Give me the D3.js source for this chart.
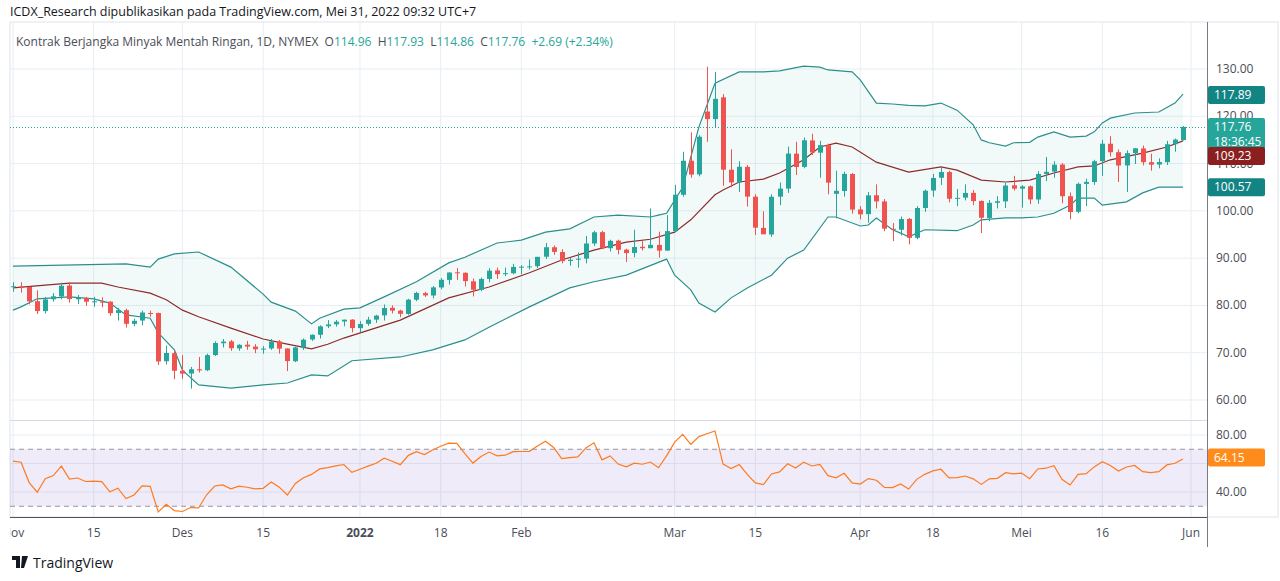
<!DOCTYPE html>
<html><head><meta charset="utf-8">
<script src="https://cdn.jsdelivr.net/npm/d3@7/dist/d3.min.js"></script>
<style>body{margin:0;background:#fff;font-family:"Open Sans","DejaVu Sans",sans-serif}</style>
</head><body><svg id="c" width="1280" height="581"></svg>
<script>
// ---- data ----
const priorCloses=[79.5,80.5,81,80.5,82,82.5,83.5,84,83,84.5,85.5,86,85,84.5,85,86,86.5,84,83.5,84];
const dates=["Nov 1","Nov 2","Nov 3","Nov 4","Nov 5","Nov 8","Nov 9","Nov 10","Nov 11","Nov 12","Nov 15","Nov 16","Nov 17","Nov 18","Nov 19","Nov 22","Nov 23","Nov 24","Nov 26","Nov 29","Nov 30",
"Dec 1","Dec 2","Dec 3","Dec 6","Dec 7","Dec 8","Dec 9","Dec 10","Dec 13","Dec 14","Dec 15","Dec 16","Dec 17","Dec 20","Dec 21","Dec 22","Dec 23","Dec 27","Dec 28","Dec 29","Dec 30","Dec 31",
"Jan 3","Jan 4","Jan 5","Jan 6","Jan 7","Jan 10","Jan 11","Jan 12","Jan 13","Jan 14","Jan 18","Jan 19","Jan 20","Jan 21","Jan 24","Jan 25","Jan 26","Jan 27","Jan 28","Jan 31",
"Feb 1","Feb 2","Feb 3","Feb 4","Feb 7","Feb 8","Feb 9","Feb 10","Feb 11","Feb 14","Feb 15","Feb 16","Feb 17","Feb 18","Feb 22","Feb 23","Feb 24","Feb 25","Feb 28",
"Mar 1","Mar 2","Mar 3","Mar 4","Mar 7","Mar 8","Mar 9","Mar 10","Mar 11","Mar 14","Mar 15","Mar 16","Mar 17","Mar 18","Mar 21","Mar 22","Mar 23","Mar 24","Mar 25","Mar 28","Mar 29","Mar 30","Mar 31",
"Apr 1","Apr 4","Apr 5","Apr 6","Apr 7","Apr 8","Apr 11","Apr 12","Apr 13","Apr 14","Apr 18","Apr 19","Apr 20","Apr 21","Apr 22","Apr 25","Apr 26","Apr 27","Apr 28","Apr 29",
"May 2","May 3","May 4","May 5","May 6","May 9","May 10","May 11","May 12","May 13","May 16","May 17","May 18","May 19","May 20","May 23","May 24","May 25","May 26","May 27","May 31"];
const opens=[83.9,84.0,83.9,80.9,78.8,81.3,81.9,84.2,81.3,81.6,80.8,80.8,80.8,78.4,79.0,76.1,76.8,78.4,78.4,68.2,69.9,
66.2,65.6,66.5,66.3,69.5,72.0,72.4,70.9,71.7,71.3,70.7,70.9,72.4,70.9,68.2,71.1,72.8,73.8,75.6,76.0,76.6,77.0,
75.2,76.1,77.0,77.9,79.5,78.9,78.2,81.2,82.6,82.1,83.8,85.4,87.0,86.9,85.1,83.3,85.6,87.4,86.6,86.8,
88.2,88.2,88.3,90.3,92.3,91.3,89.4,89.7,89.9,93.1,95.5,92.1,93.7,91.8,91.1,92.4,92.1,92.8,91.6,
95.7,103.4,110.6,107.7,121.0,119.4,124.0,108.7,106.0,109.3,103.0,96.4,95.0,103.0,104.7,112.1,109.3,114.9,112.3,113.9,103.6,104.2,107.8,
100.3,99.3,103.3,102.0,96.2,96.0,98.3,94.3,100.6,104.3,107.0,108.2,102.6,102.8,103.8,102.1,98.5,101.7,102.0,105.4,
104.7,105.2,102.4,107.8,108.3,109.8,103.1,99.8,105.7,106.1,110.5,114.2,112.4,109.6,112.2,113.2,110.3,109.8,110.3,114.1,114.96];
const highs=[84.9,84.9,84.0,83.2,81.8,82.6,84.8,84.9,82.2,81.8,81.8,81.7,80.9,79.5,79.3,77.2,78.9,78.9,78.5,71.5,70.5,
69.5,67.0,69.1,69.8,72.4,72.9,72.7,71.8,72.5,71.8,71.4,72.9,72.7,70.9,71.3,73.0,73.9,75.8,76.9,76.9,77.0,77.1,
76.7,77.6,78.0,80.2,80.0,79.1,81.4,82.9,82.9,84.1,85.8,87.0,87.9,87.0,85.7,85.9,87.9,88.0,88.0,88.8,
88.5,89.7,90.3,93.2,92.7,91.9,90.0,91.2,94.7,95.8,95.8,93.9,93.9,92.0,96.0,93.6,100.5,95.6,99.1,
105.5,112.5,116.6,116.0,130.5,129.4,124.7,113.0,110.5,109.7,103.5,99.9,103.5,106.0,113.6,114.6,115.5,116.3,114.8,114.2,108.5,108.3,108.0,
101.0,104.0,105.6,102.5,97.4,98.8,98.5,101.0,104.5,107.8,109.2,108.5,104.6,105.6,104.4,102.2,102.3,103.1,105.9,107.4,
105.4,105.4,108.4,111.4,110.5,110.1,103.9,106.0,106.8,110.8,115.0,115.8,113.0,112.8,113.3,113.8,112.1,111.1,114.8,115.3,117.93];
const lows=[82.9,82.7,80.2,78.2,78.3,80.8,81.3,80.6,80.3,79.9,79.7,79.6,77.8,76.8,75.3,75.6,75.8,77.6,67.4,67.5,64.4,
64.4,62.4,65.8,66.1,69.3,71.1,70.4,70.4,70.6,69.9,69.8,70.6,69.8,66.1,68.0,70.6,72.5,73.0,75.2,75.5,75.6,74.3,
74.3,75.7,76.3,76.8,78.3,77.5,78.0,80.9,81.8,81.5,83.4,84.4,85.4,84.0,81.9,83.0,84.9,85.6,86.2,86.6,
86.6,87.6,87.9,89.8,90.7,88.9,88.4,88.0,88.9,92.6,91.9,91.4,90.8,89.2,90.2,91.6,92.1,90.1,91.5,
95.5,103.0,107.0,107.3,114.6,117.6,105.3,105.0,104.0,100.9,94.9,95.2,94.5,101.2,103.8,107.6,109.0,111.8,107.0,103.5,98.4,103.0,99.4,
98.2,97.5,100.5,95.7,93.6,94.8,92.9,94.0,99.8,103.0,105.5,101.8,101.0,102.2,101.2,95.3,97.8,100.5,100.6,104.3,
100.7,101.4,101.5,106.3,107.0,101.6,98.2,99.5,101.0,105.5,107.4,111.5,106.1,104.0,109.9,109.6,108.5,109.0,109.7,112.5,114.86];
const closes=[84.05,83.91,80.86,78.81,81.27,81.93,84.15,81.34,81.59,80.79,80.88,80.76,78.36,79.01,76.10,76.75,78.50,78.39,68.15,69.95,66.18,
65.57,66.50,66.26,69.49,72.05,72.36,70.94,71.67,71.29,70.73,70.87,72.38,70.86,68.23,71.12,72.76,73.79,75.57,75.98,76.56,76.99,75.21,
76.08,76.99,77.85,79.46,78.90,78.23,81.22,82.64,82.12,83.82,85.43,86.96,86.90,85.14,83.31,85.60,87.35,86.61,86.82,88.15,
88.20,88.26,90.27,92.31,91.32,89.36,89.66,89.88,93.10,95.46,92.07,93.66,91.76,91.07,92.35,92.10,92.81,91.59,95.72,
103.41,110.60,107.67,115.68,119.40,123.70,108.70,106.02,109.33,103.01,96.44,95.04,102.98,104.70,112.12,109.27,114.93,112.34,113.90,105.96,104.24,107.82,100.28,
99.27,103.28,102.00,96.23,96.03,98.26,94.29,100.60,104.25,106.95,108.21,102.56,102.75,103.79,102.07,98.54,101.70,102.02,105.36,104.69,
105.17,102.41,107.81,108.26,109.77,103.09,99.76,105.71,106.13,110.49,114.20,112.40,109.59,112.21,113.23,110.29,109.77,110.33,114.09,115.07,117.76];
// Bollinger band lines (bar index -> price)
const upperIdx=[0,14,17,18,20,23,27,31,32,35,37,38,41,43,46,50,54,56,60,63,66,69,72,75,79,80,81,83,85,87,90,93,95,98,100,101,104,105,107,109,111,113,115,117,119,120,121,123,124,126,127,129,131,133,134,135,136,139,142,144,145];
const upperVals=[88.3,88.8,88.1,89.8,90.9,91.3,88.1,82.4,80.7,78.8,76.1,77.3,79.2,79.5,81.8,85,89,90.2,93.2,93.8,95.5,96.2,98.7,99.1,98.7,99.1,99.5,105,117.7,127,129.4,129.4,129.6,130.6,130.4,129.8,129.4,127.7,122.8,122.6,122.3,122.2,122.8,121.3,118.2,115,114.4,113.7,114.4,114.5,115.6,116.7,115.6,115.8,116.7,118.6,119.6,120.7,120.9,122.8,124.7];
const midIdx=[0,4,7,11,13,17,19,21,23,27,31,34,37,39,41,48,54,59,64,68,72,76,79,82,84,87,88,90,93,95,98,100,102,104,107,111,115,117,120,123,126,129,132,134,136,140,143,145];
const midVals=[83.7,84.3,84.7,84.7,83.9,82.6,81.2,79.0,77.6,75.2,72.9,71.8,70.8,71.8,73.1,76.9,81.6,83.9,86.9,89.6,91.7,93.4,94,95.5,98.1,103.4,104.4,106.1,106.7,108,110.8,113.5,114.3,113.5,110.3,108.2,109.3,108.6,106.5,106.1,106.5,108,109.3,109.5,110.8,112.2,113.5,114.8];
const lowerIdx=[0,1,3,7,10,12,14,17,18,20,21,23,27,31,34,37,39,42,48,52,56,59,64,69,72,76,81,82,84,85,87,89,91,94,96,98,101,102,105,106,107,109,110,111,113,117,119,120,123,125,127,129,131,132,134,135,138,140,142,145];
const lowerVals=[79,79.7,81.4,81.8,81.4,80.5,78,77.3,74.2,70.6,66.3,63.2,62.5,63.2,63.6,65.3,65.1,68.3,69.1,70.6,72.7,75.4,79.7,83.7,85,86.4,89.8,86.4,83.3,80.5,78.6,81.6,83.7,86.4,90,91.7,98.7,98.7,96.8,97,98.5,96,95.3,94.5,96,95.8,97,98.1,98.5,98.5,98.7,99.5,101.2,102.7,102.7,101.2,101.9,103.8,105,105];
const bandTags=[117.89,109.23,100.57];
const rsiLast=64.15;
const xTickIdx=[0,10,21,31,43,53,63,82,92,105,114,125,135,146];
const xTickLabels=["Nov","15","Des","15","2022","18","Feb","Mar","15","Apr","18","Mei","16","Jun"];
const priceTicks=[60,70,80,90,100,110,120,130];

// ---- RSI(14) derived from closes ----
const all=priorCloses.concat(closes), P=priorCloses.length;
const rsi=[];let ag=0,al=0;
for(let k=1;k<all.length;k++){const ch=all[k]-all[k-1];const g=Math.max(ch,0),l=Math.max(-ch,0);
 if(k<=14){ag+=g/14;al+=l/14;}else{ag=(ag*13+g)/14;al=(al*13+l)/14;}
 if(k>=P) rsi.push(100-100/(1+ag/al));}

// ---- drawing ----
const svg=d3.select("#c");
const L=10,R=1207,PT=22,PB=420,RT=421,RB=517;
const x=d3.scaleLinear().domain([0,145]).range([13,1183]);
const y=d3.scaleLinear().domain([60,130]).range([400,69]);
const yr=d3.scaleLinear().domain([40,80]).range([492,435]);
const UP="#26a69a",DN="#ef5350",GRID="#e8eef3";
const defs=svg.append("defs");
defs.append("clipPath").attr("id","pc").append("rect").attr("x",L).attr("y",PT).attr("width",R-L).attr("height",PB-PT);
defs.append("clipPath").attr("id","rc").append("rect").attr("x",L).attr("y",RT).attr("width",R-L).attr("height",RB-RT);
const g=svg.append("g");
xTickIdx.forEach(i=>g.append("line").attr("x1",x(i)).attr("x2",x(i)).attr("y1",PT).attr("y2",RB).attr("stroke",GRID));
priceTicks.forEach(t=>g.append("line").attr("x1",L).attr("x2",R).attr("y1",y(t)).attr("y2",y(t)).attr("stroke",GRID));
[40,60,80].forEach(t=>g.append("line").attr("x1",L).attr("x2",R).attr("y1",yr(t)).attr("y2",yr(t)).attr("stroke",GRID));
svg.append("rect").attr("x",L).attr("y",PT).attr("width",1268).attr("height",RB-PT).attr("fill","none").attr("stroke","#e0e3eb");
svg.append("line").attr("x1",L).attr("x2",R).attr("y1",PB+0.5).attr("y2",PB+0.5).attr("stroke","#d6dbe3");
svg.append("line").attr("x1",R+0.5).attr("x2",R+0.5).attr("y1",PT).attr("y2",547).attr("stroke","#787b86");
svg.append("line").attr("x1",L).attr("x2",R).attr("y1",RB+0.5).attr("y2",RB+0.5).attr("stroke","#50535e");
// price pane
const pp=svg.append("g").attr("clip-path","url(#pc)");
const up=upperIdx.map((i,k)=>[x(i),y(upperVals[k])]);
const lo=lowerIdx.map((i,k)=>[x(i),y(lowerVals[k])]);
const md=midIdx.map((i,k)=>[x(i),y(midVals[k])]);
const ln=d3.line();
pp.append("path").attr("d",ln(up.concat(lo.slice().reverse()))+"Z").attr("fill","#26a69a").attr("fill-opacity",0.06);
pp.append("path").attr("d",ln(up)).attr("fill","none").attr("stroke","#2b8f8c").attr("stroke-width",1.2);
pp.append("path").attr("d",ln(lo)).attr("fill","none").attr("stroke","#2b8f8c").attr("stroke-width",1.2);
pp.append("path").attr("d",ln(md)).attr("fill","none").attr("stroke","#8e2b2b").attr("stroke-width",1.2);
const idx=d3.range(closes.length);
const cg=pp.selectAll("g.c").data(idx).join("g");
cg.append("line").attr("x1",i=>Math.round(x(i))+0.5).attr("x2",i=>Math.round(x(i))+0.5).attr("y1",i=>y(highs[i])).attr("y2",i=>y(lows[i]))
 .attr("stroke",i=>closes[i]>=opens[i]?UP:DN);
cg.append("rect").attr("x",i=>Math.round(x(i))-2).attr("width",5)
 .attr("y",i=>y(Math.max(opens[i],closes[i]))).attr("height",i=>Math.max(1,Math.abs(y(opens[i])-y(closes[i]))))
 .attr("fill",i=>closes[i]>=opens[i]?UP:DN);
const last=closes.length-1;
svg.append("line").attr("x1",L).attr("x2",R).attr("y1",Math.round(y(closes[last]))+0.5).attr("y2",Math.round(y(closes[last]))+0.5)
 .attr("stroke",UP).attr("stroke-dasharray","1,2");
priceTicks.forEach(t=>svg.append("text").attr("x",1216).attr("y",y(t)+4).text(t.toFixed(2)).attr("font-size",12).attr("fill","#4a4d57"));
function tag(val,col,yy,h,txt2){svg.append("rect").attr("x",1208).attr("y",yy-9).attr("width",57).attr("height",h).attr("rx",2).attr("fill",col);
 svg.append("text").attr("x",1214).attr("y",yy+4).text(val).attr("font-size",12).attr("fill","#fff");
 if(txt2) svg.append("text").attr("x",1214).attr("y",yy+19).text(txt2).attr("font-size",12).attr("fill","#fff");}
const yClose=y(closes[last]);
tag(bandTags[0].toFixed(2),"#138484",y(upperVals[upperVals.length-1])+1,18);
tag(closes[last].toFixed(2),UP,yClose,33,"18:36:45");
tag(bandTags[1].toFixed(2),"#8b1f1f",yClose+29,18);
tag(bandTags[2].toFixed(2),"#138484",y(lowerVals[lowerVals.length-1]),18);
// rsi pane
const rp=svg.append("g").attr("clip-path","url(#rc)");
rp.append("rect").attr("x",L).attr("width",R-L).attr("y",yr(70)).attr("height",yr(30)-yr(70)).attr("fill","#7e57c2").attr("fill-opacity",0.12);
[70,30].forEach(t=>rp.append("line").attr("x1",L).attr("x2",R).attr("y1",yr(t)).attr("y2",yr(t)).attr("stroke","#9598a1").attr("stroke-dasharray","5,4"));
rp.append("path").attr("d",d3.line().x(i=>x(i)).y(i=>yr(rsi[i]))(idx)).attr("fill","none").attr("stroke","#ff7a1f").attr("stroke-width",1.2);
[40,80].forEach(t=>svg.append("text").attr("x",1216).attr("y",yr(t)+4).text(t.toFixed(2)).attr("font-size",12).attr("fill","#4a4d57"));
svg.append("rect").attr("x",1208).attr("y",yr(rsiLast)-9).attr("width",57).attr("height",18).attr("rx",2).attr("fill","#ff8c1a");
svg.append("text").attr("x",1214).attr("y",yr(rsiLast)+4).text(rsiLast.toFixed(2)).attr("font-size",12).attr("fill","#fff");
xTickIdx.forEach((i,k)=>svg.append("text").attr("x",x(i)).attr("y",537).attr("text-anchor","middle").text(xTickLabels[k])
 .attr("font-size",12).attr("fill","#4a4d57").attr("font-weight",xTickLabels[k]==="2022"?"bold":"normal"));
svg.append("rect").attr("x",0).attr("y",520).attr("width",L).attr("height",25).attr("fill","#fff");
// header
svg.append("text").attr("x",10).attr("y",16).text("ICDX_Research dipublikasikan pada TradingView.com, Mei 31, 2022 09:32 UTC+7").attr("font-size",12.5).attr("fill","#131722");
const NB="\u00a0\u00a0";
const h=svg.append("text").attr("x",16).attr("y",46).attr("font-size",12).attr("fill","#4a4d57");
h.append("tspan").text("Kontrak Berjangka Minyak Mentah Ringan, 1D, NYMEX"+NB);
[["O",opens[last]],["H",highs[last]],["L",lows[last]],["C",closes[last]]].forEach(([k,v])=>{h.append("tspan").text(k);h.append("tspan").attr("fill",UP).text(v.toFixed(2)+NB);});
h.append("tspan").attr("fill",UP).text("+2.69 (+2.34%)");
svg.append("path").attr("d","M12 556h8v12h-4v-8h-4z M22 556h6l-4 12h-3z").attr("fill","#131722");
svg.append("text").attr("x",33).attr("y",568).text("TradingView").attr("font-size",14).attr("fill","#131722");
</script></body></html>
